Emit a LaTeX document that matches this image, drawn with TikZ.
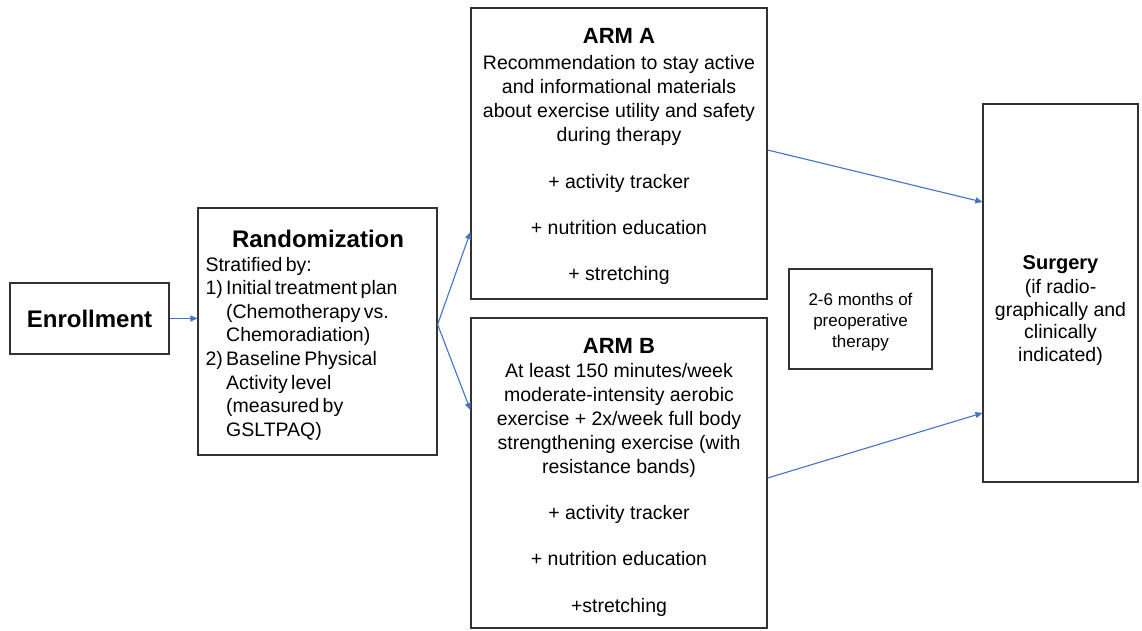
\documentclass[tikz,border=0pt]{standalone}
\usepackage{fontspec}
\setmainfont{Liberation Sans}
\usetikzlibrary{arrows.meta,calc}
\definecolor{arrowblue}{RGB}{68,114,196}
\definecolor{boxgray}{RGB}{50,50,50}
\begin{document}
\begin{tikzpicture}[x=1pt,y=-1pt,
  box/.style={draw=boxgray, line width=1.2pt, inner sep=0pt, align=center},
  txt/.style={inner sep=0pt, align=center},
  bodyfont/.style={font=\fontsize{19.5}{24}\selectfont},
  conn/.style={draw=arrowblue, line width=1.1pt, -{Triangle[length=7pt,width=6pt]}}]
\useasboundingbox (0,0) rectangle (1142,631);

% Enrollment
\node[box, minimum width=159pt, minimum height=71pt,
      font=\fontsize{24}{28}\selectfont\bfseries] (enr) at (89.5,318.5) {Enrollment};

% Randomization
\node[box, minimum width=239pt, minimum height=247pt] (rand) at (317.5,331.5) {};
\node[anchor=north, inner sep=0pt, text width=225pt] (randt) at (318,230) {%
  \parindent=0pt
  {\centering\fontsize{24}{24}\selectfont\bfseries Randomization\par}
  \fontsize{19.5}{23.6}\selectfont\raggedright
  Stratified by:\par
  1) Initial treatment plan\par
  \phantom{1) }(Chemotherapy vs.\par
  \phantom{1) }Chemoradiation)\par
  2) Baseline Physical\par
  \phantom{2) }Activity level\par
  \phantom{2) }(measured by\par
  \phantom{2) }GSLTPAQ)\par};

% ARM A
\node[box, minimum width=296pt, minimum height=291pt] (armA) at (619,153.5) {};
\node[txt, bodyfont] (armAt) at (619,156.5) {%
  {\fontsize{22}{24}\selectfont\bfseries ARM A}\\[2pt]
  Recommendation to stay active\\
  and informational materials\\
  about exercise utility and safety\\
  during therapy\\[23pt]
  + activity tracker\\[22pt]
  + nutrition education\\[22pt]
  + stretching};

% ARM B
\node[box, minimum width=296pt, minimum height=310pt] (armB) at (619,473) {};
\node[txt, bodyfont] (armBt) at (619,477) {%
  {\fontsize{22}{24}\selectfont\bfseries ARM B}\\[0pt]
  At least 150 minutes/week\\
  moderate-intensity aerobic\\
  exercise + 2x/week full body\\
  strengthening exercise (with\\
  resistance bands)\\[22pt]
  + activity tracker\\[22pt]
  + nutrition education\\[23pt]
  +stretching};

% Preoperative therapy
\node[box, minimum width=143pt, minimum height=100pt] (preop) at (860.5,319) {};
\node[txt, font=\fontsize{17}{21}\selectfont] (preopt) at (860.5,322) {%
  2-6 months of\\ preoperative\\ therapy};

% Surgery
\node[box, minimum width=155pt, minimum height=378pt] (surg) at (1060.5,293) {};
\node[txt, anchor=north, font=\fontsize{19.5}{22.5}\selectfont] (surgt) at (1060.5,255) {%
  {\fontsize{20}{22}\selectfont\bfseries Surgery}\\[2pt]
  (if radio-\\ graphically and\\ clinically\\ indicated)};

% Connectors
\draw[conn] (enr.east) -- (rand.west |- enr.east);
\draw[conn] ([yshift=7pt]rand.east) -- ([yshift=-78.5pt]armA.west);
\draw[conn] ([yshift=7pt]rand.east) -- ([yshift=63pt]armB.west);
\draw[conn] ([yshift=3.5pt]armA.east) -- ([yshift=91pt]surg.west);
\draw[conn] ([yshift=-5pt]armB.east) -- ([yshift=-120pt]surg.west);
\end{tikzpicture}
\end{document}
